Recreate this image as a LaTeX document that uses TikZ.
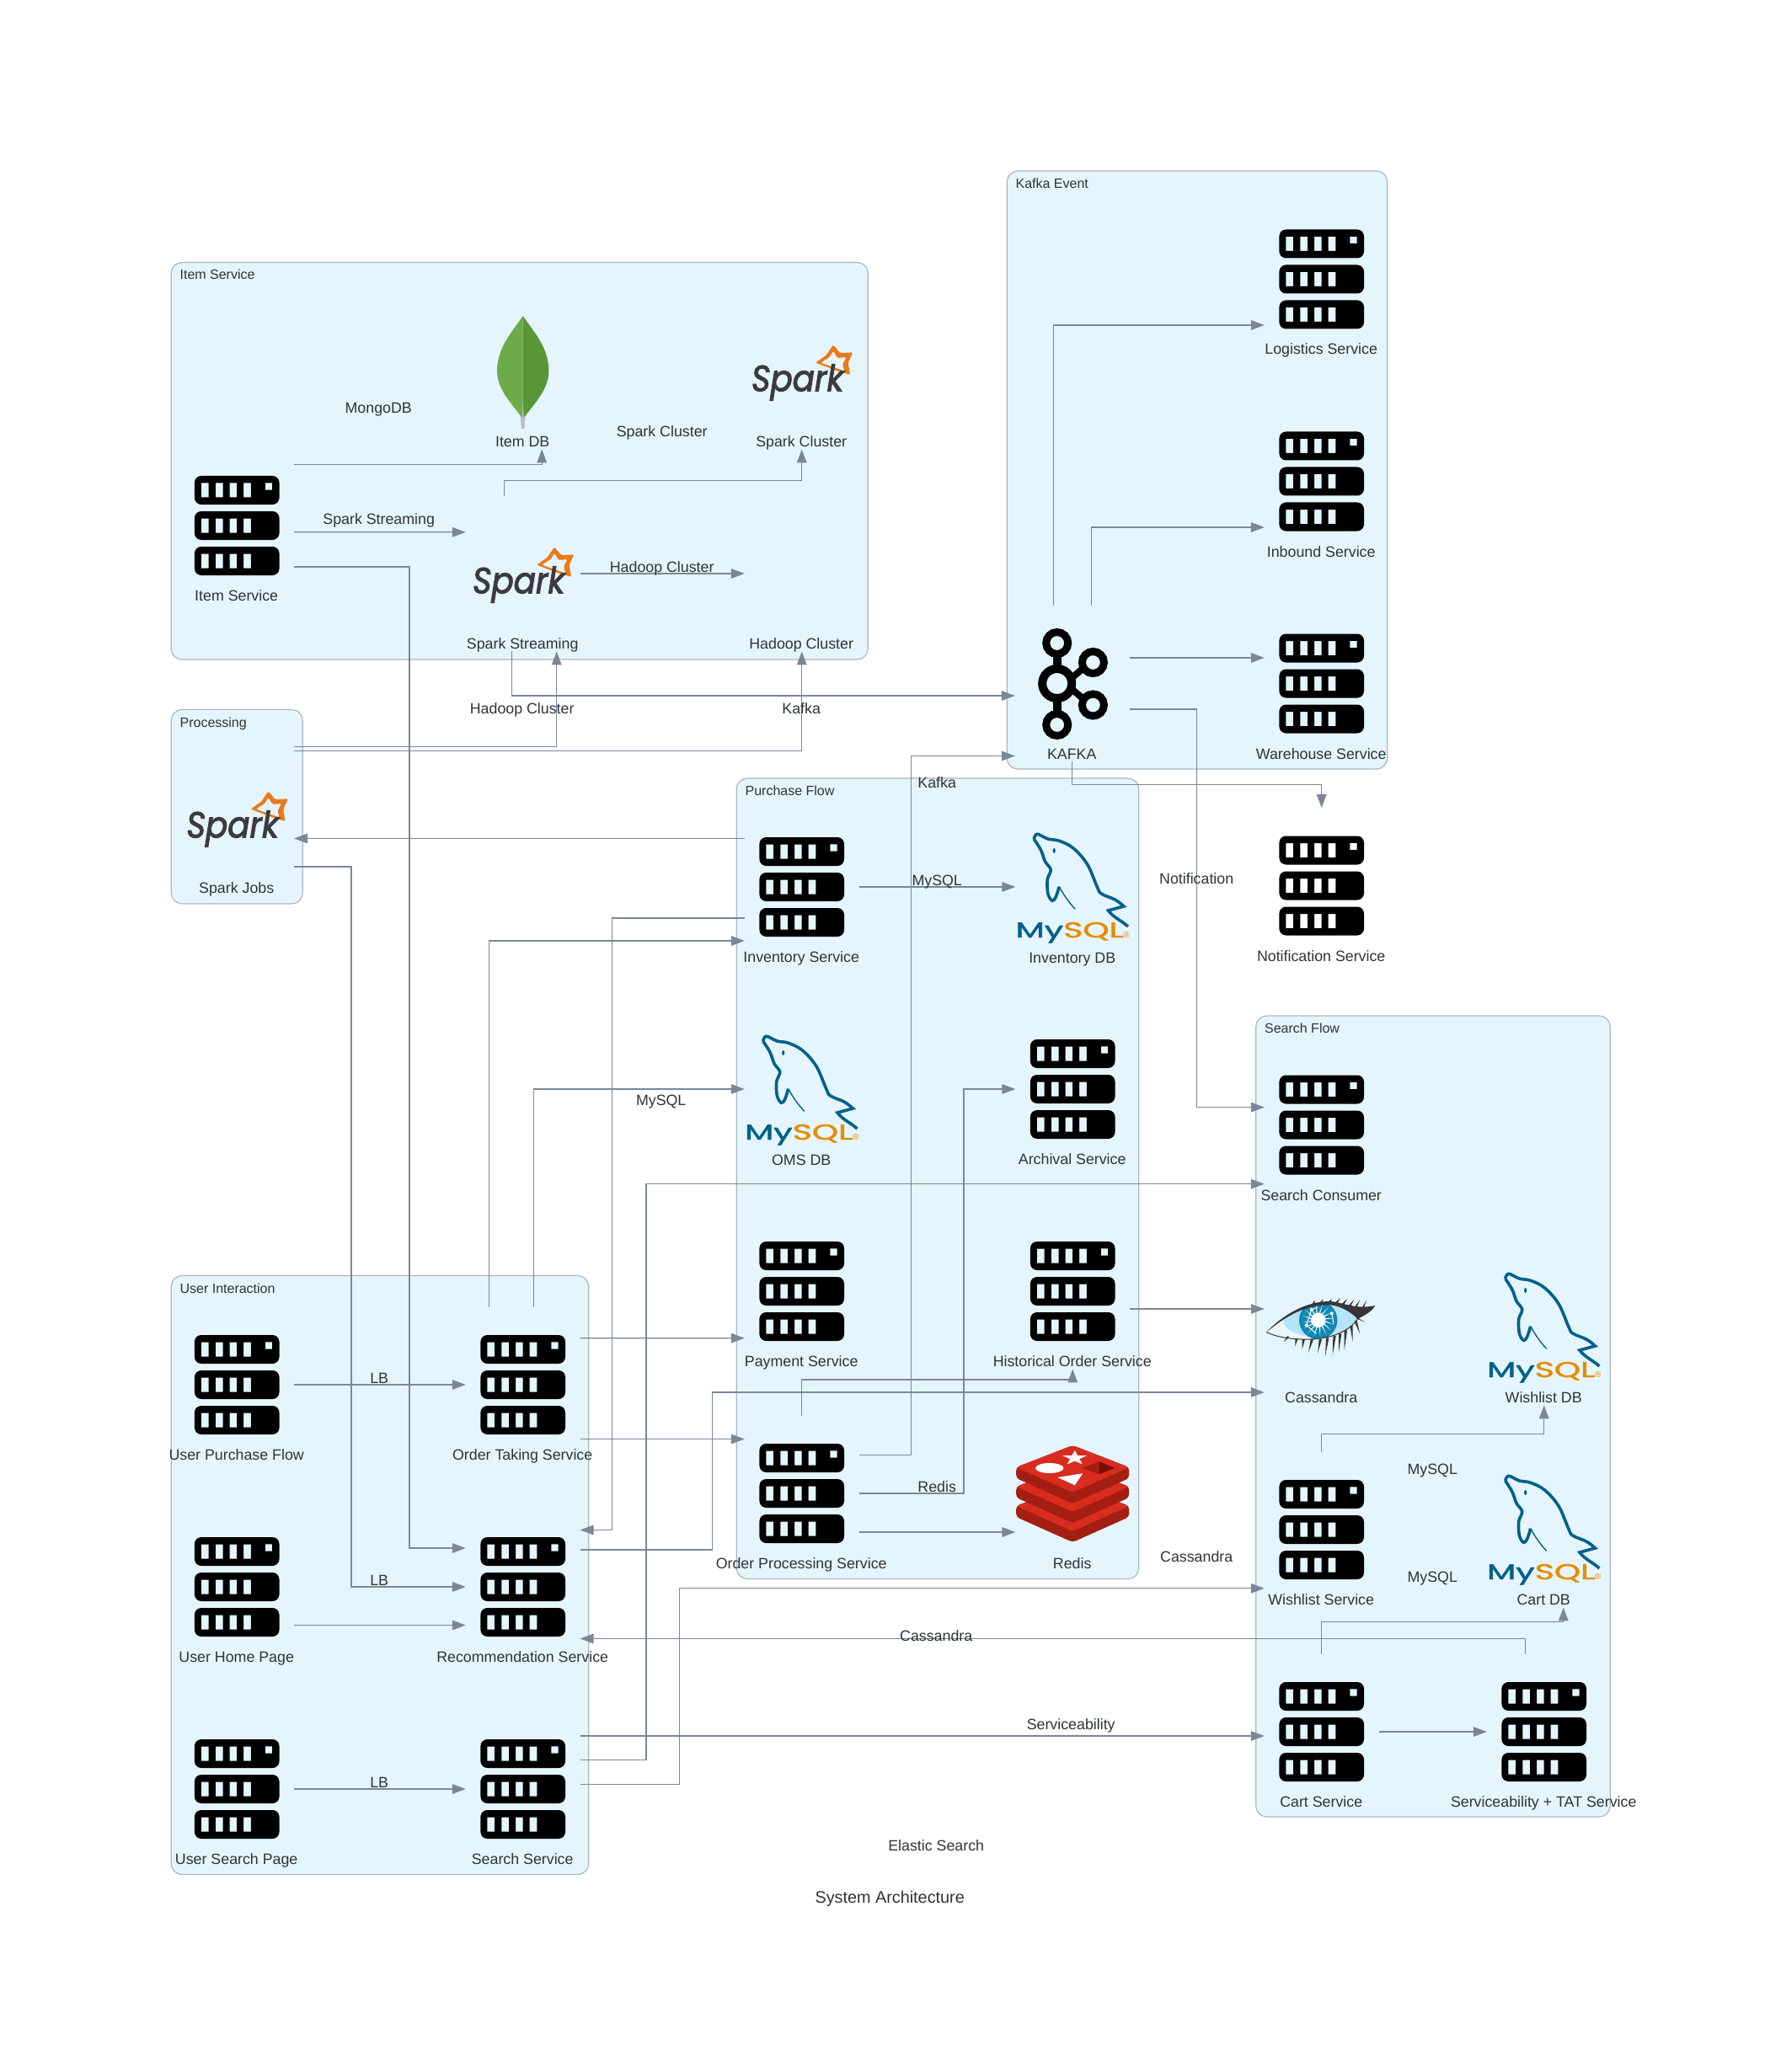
\documentclass[tikz,border=0pt]{standalone}
\usepackage{fontspec}
\setmainfont{Liberation Sans}
\newfontfamily\logofont{Poppins}[FakeBold=1.6]
\newfontfamily\sparkfont{Poppins}[FakeBold=2.6]
\usetikzlibrary{arrows.meta,positioning,calc}

\definecolor{edgecol}{HTML}{7B8894}
\definecolor{clusterfill}{HTML}{E5F5FD}
\definecolor{clusterline}{HTML}{AEB6BE}
\definecolor{textcol}{HTML}{2D3436}
\definecolor{sparkorange}{HTML}{EA7A1A}
\definecolor{sparkgrey}{HTML}{3C3A3E}
\definecolor{mysqlblue}{HTML}{00618A}
\definecolor{mysqlorange}{HTML}{E48E00}
\definecolor{redislight}{HTML}{D82C20}
\definecolor{redisdark}{HTML}{A41E11}
\definecolor{redisdeep}{HTML}{7A0C00}
\definecolor{leaflight}{HTML}{6CAC48}
\definecolor{leafdark}{HTML}{589636}
\definecolor{lashcol}{HTML}{373535}
\definecolor{eyepale}{HTML}{B5E3F8}
\definecolor{eyewhite}{HTML}{EAF7FE}
\definecolor{irisblue}{HTML}{1287B1}

% Icons, drawn around the middle of their node
\tikzset{
  server/.pic={
    \foreach \r/\led in {-42/1,0/0,42/0} {
      \fill[black, even odd rule, rounded corners=4pt] (-50.3,\r-17) rectangle (50.3,\r+17) [sharp corners]
        (33.7,\r-8.7) rectangle (33.7+8.3*\led,\r-0.3)
        \foreach \p in {-42.3,-25.3,-8.7,8} {(\p,\r-8.5) rectangle (\p+8.7,\r+8.5)};
    }
  },
  spark/.pic={
    \fill[sparkorange, even odd rule, rounded corners=.8pt] (37.3,-31.7) -- (45.7,-21.7) -- (60.7,-22.7) -- (55,-10.3) -- (57.3,4)
      -- (44,0) -- (16.3,-10.3) -- (29,-19.3) -- cycle
      (37.3,-24.3) -- (42.3,-16) -- (53,-17) -- (48.3,-8.3) -- (50.7,-.3) -- (41.7,-3.7) -- (22.3,-10.3) -- (33,-17) -- cycle;
    \node[inner sep=0, anchor=base west, text=sparkgrey, font=\fontsize{21.5}{22}\sparkfont\itshape] (sparkword) at (-60,23.3)
      {\scalebox{.9}[1]{Spark}};
  },
  mysql/.pic={
    \draw[mysqlblue, line width=1.8pt] plot[smooth, tension=.6] coordinates {(-46,-58) (-42,-63.7) (-29.3,-58) (-16,-55.7)
      (0.7,-47) (17.3,-28) (29,-1.3) (34,7) (50.7,14.3) (60.7,22)} -- (42.3,27) .. controls (48,35) and (58,39) .. (65.7,46);
    \draw[mysqlblue, line width=1.8pt] plot[smooth, tension=.6] coordinates {(-46,-58) (-37.7,-44.7) (-32.7,-31.3) (-26,-21.3)
      (-30,-9.7) (-29.3,7) (-24.3,15.3) (-20,11) (-16,-1.3)};
    \draw[mysqlblue, line width=.7pt] (-16,-1.3) .. controls (-11,8) and (-4,18) .. (3,25.3);
    \fill[mysqlblue] (-22,-44) ellipse (1.6 and 3);
    \node[inner sep=0, anchor=base west, font=\fontsize{12.8}{13}\logofont] (mysqlword) at (-68,59)
      {\scalebox{1.55}[1]{\textcolor{mysqlblue}{My}\textcolor{mysqlorange}{SQL}}};
    \node[inner sep=0, text=mysqlorange, font=\fontsize{5}{5}\selectfont] (mysqlmark) at (64,56.5) {®};
  },
  redis/.pic={
    \foreach \d in {46,23,0} {
      \fill[redisdark, rounded corners=2pt] (-67,-31+\d) -- (0,-57+\d) -- (67,-31+\d) -- (67,-18+\d) -- (0,12+\d) -- (-67,-18+\d) -- cycle;
      \fill[redislight, rounded corners=2pt] (-67,-31+\d) -- (0,-57+\d) -- (67,-31+\d) -- (0,-1+\d) -- cycle;
    }
    \fill[white] (-27.5,-30) ellipse (16.7 and 6);
    \fill[white] (-18,-19) -- (12,-23.7) -- (2.5,-9.7) -- cycle;
    \fill[white] (2.5,-51) -- (6,-44.9) -- (16.8,-44.8) -- (8.2,-40.9) -- (11.3,-34.7) -- (2.5,-38.4)
      -- (-6.3,-34.7) -- (-3.2,-40.9) -- (-11.8,-44.8) -- (-1,-44.9) -- cycle;
    \fill[redisdark] (11.5,-30) -- (31.5,-38) -- (31.5,-22.7) -- cycle;
    \fill[redisdeep] (31.5,-38) -- (50,-30) -- (31.5,-22.7) -- cycle;
  },
  mongo/.pic={
    \fill[lightgray] (0,30) -- (3,50) -- (2,68) -- (-2,68) -- (-3,50) -- cycle;
    \fill[leaflight] (0,-66) .. controls (-10,-50) and (-31,-30) .. (-30.7,0) .. controls (-30.5,22) and (-12,40) .. (-1,55) -- (0,30) -- cycle;
    \fill[leafdark] (0,-66) .. controls (10,-50) and (31,-30) .. (30.7,0) .. controls (30.5,22) and (12,40) .. (1,55) -- (0,30) -- cycle;
  },
  kafka/.pic={
    \draw[black, line width=5pt] (-18,0) circle (17.5);
    \foreach \ry in {-48,49} {
      \draw[black, line width=4.5pt] (-18,\ry) circle (13);
    }
    \foreach \ry in {-25,25.5} {
      \draw[black, line width=4.5pt] (24.7,\ry) circle (13);
    }
    \draw[black, line width=5pt] (-18,-35) -- (-18,-20) (-18,36) -- (-18,20);
    \draw[black, line width=4pt] (1,-8) -- (13,-18) (1,8) -- (13,18);
  },
  cassandra/.pic={
    \begin{scope}[shift={(-73,-46)}, x=.16667pt, y=-.16667pt]
      \begin{scope}
        \clip (22,155) .. controls (80,100) and (160,50) .. (250,55) .. controls (300,60) and (335,85) .. (348,108)
          .. controls (310,160) and (240,178) .. (180,180) .. controls (110,182) and (60,172) .. (22,155) -- cycle;
        \fill[eyewhite] (0,0) rectangle (450,270);
        \fill[eyepale] (215,115) ellipse (132 and 58);
        \fill[irisblue] (207,112) circle (68);
      \end{scope}
      \foreach \a in {0,22.5,...,337.5} {
        \fill[white] (207,112) -- ++(\a-16:25) -- ++(\a:34) -- cycle;
      }
      \fill[white] (207,112) circle (26);
      \draw[white, line width=.5pt] (183,75) -- (165,130) -- (200,160) (183,75) -- (205,66) (255,88) -- (262,125);
      \fill[white] (183,75) circle (6) (165,130) circle (6) (255,88) circle (6);
      \fill[lashcol] (22,155) .. controls (80,95) and (160,45) .. (250,45) .. controls (300,50) and (340,75) .. (410,60)
        .. controls (395,85) and (370,95) .. (348,108) .. controls (325,85) and (290,62) .. (250,58)
        .. controls (160,55) and (90,100) .. (22,155) -- cycle;
      \draw[lashcol, line width=.5pt] (22,155) .. controls (60,172) and (110,182) .. (180,180) .. controls (240,178) and (310,160) .. (348,108);
      \foreach \ax/\ay/\bx/\by in {190/55/195/40, 215/52/225/36, 245/50/255/36, 272/50/285/33, 295/55/310/36, 318/62/335/38, 338/70/355/40, 360/80/380/40,
          100/170/85/190, 130/178/125/205, 155/180/150/215, 185/180/172/228, 215/180/205/230, 240/175/232/240, 265/168/258/238,
          285/160/280/225, 305/148/300/220, 325/132/330/190, 340/115/355/160, 345/105/375/120} {
        \fill[lashcol] (\ax-5,\ay) -- (\ax+5,\ay) -- (\bx,\by) -- cycle;
      }
    \end{scope}
  }
}

\begin{document}
\begin{tikzpicture}[
    x=.5pt, y=-.5pt,
    cluster/.style={draw=clusterline, fill=clusterfill, line width=.6pt, rounded corners=6.5pt},
    ctitle/.style={anchor=base west, inner sep=0, text=textcol, font=\fontsize{8}{9}\selectfont},
    nd/.style={rectangle, minimum width=67.5pt, minimum height=92pt, inner sep=0},
    lbl/.style={anchor=base, inner sep=0, text=textcol, font=\fontsize{8.9}{10}\selectfont},
    arrow/.style={draw=edgecol, line width=.65pt, -{Triangle[length=8pt, width=5.8pt]}}
]
\useasboundingbox (-.7,0) rectangle (2112.3,2460);

% Clusters
\foreach \name/\xa/\ya/\xb/\yb/\txt in {
    citem/202.5/311.5/1029.5/783/Item Service,
    cproc/202.5/842.5/358.5/1073/Processing,
    ckafka/1194.5/203/1646/913/Kafka Event,
    cpurch/873.5/924/1351/1874.5/Purchase Flow,
    csearch/1490/1206/1910.5/2157/Search Flow,
    cuser/202.5/1514.5/698/2225.5/User Interaction} {
  \draw[cluster] (\xa,\ya) rectangle (\xb,\yb);
  \node[ctitle] (\name) at (\xa+10,\ya+20.5) {\txt};
}

% Nodes with their icon and caption
\foreach \name/\x/\y/\icon/\txt in {
    item/280.5/624/server/Item Service,
    itemdb/620/441/mongo/Item DB,
    stream/620/681/spark/Spark Streaming,
    sparkcl/951/441/spark/Spark Cluster,
    jobs/280.5/971/spark/Spark Jobs,
    kafka/1272/811.5/kafka/KAFKA,
    logist/1568/331.5/server/Logistics Service,
    inbound/1568/571.5/server/Inbound Service,
    wareh/1568/811.5/server/Warehouse Service,
    notif/1568/1051.5/server/Notification Service,
    invent/951/1053/server/Inventory Service,
    invdb/1272.5/1054/mysql/Inventory DB,
    oms/951/1294/mysql/OMS DB,
    arch/1272.5/1293/server/Archival Service,
    pay/951/1533/server/Payment Service,
    hist/1272.5/1533/server/Historical Order Service,
    proc/951/1773/server/Order Processing Service,
    redis/1272.5/1773/redis/Redis,
    consum/1568/1335.5/server/Search Consumer,
    cass/1568/1576/cassandra/Cassandra,
    wishdb/1832/1576/mysql/Wishlist DB,
    wish/1568/1816/server/Wishlist Service,
    cartdb/1832/1816/mysql/Cart DB,
    cart/1568/2056/server/Cart Service,
    serv/1832/2056/server/Serviceability + TAT Service,
    upurch/280.5/1644/server/User Purchase Flow,
    order/620/1644/server/Order Taking Service,
    uhome/280.5/1884/server/User Home Page,
    recom/620/1884/server/Recommendation Service,
    usearch/280.5/2124/server/User Search Page,
    search/620/2124/server/Search Service} {
  \node[nd] (\name) at (\x,\y) {};
  \pic at (\name) {\icon};
  \node[lbl] (\name-cap) at (\x-.5,\y+89.5) {\txt};
}
\node[nd] (hadoop) at (951,681) {};
\node[lbl] (hadoop-cap) at (950.5,770.5) {Hadoop Cluster};

% User Interaction
\draw[arrow] (upurch) -- (order);
\draw[arrow] ($(uhome.east)+(0,45.5)$) -- ($(recom.west)+(0,45.5)$);
\draw[arrow] (usearch) -- (search);
\draw[arrow] ($(order.east)+(0,-55.3)$) -- ($(pay.west)+(0,55.7)$);
\draw[arrow] ($(order.east)+(0,64.5)$) -- ($(proc.west)+(0,-64.5)$);
\draw[arrow] ($(order.north)+(-40,0)$) |- ($(invent.west)+(0,64)$);
\draw[arrow] ($(order.north)+(13,0)$) |- ($(oms.west)+(0,-1)$);
\draw[arrow] ($(recom.east)+(0,-44)$) -- ++(157,0) |- ($(cass.west)+(0,77)$);
\draw[arrow] ($(search.east)+(0,-63)$) -- ($(cart.west)+(0,5)$);
\draw[arrow] ($(search.east)+(0,-34.6)$) -- ++(78.5,0) |- ($(consum.west)+(0,70.1)$);
\draw[arrow] ($(search.east)+(0,-5.5)$) -- ++(118,0) |- ($(wish.west)+(0,69.8)$);

% Item Service and Processing
\draw[arrow] ($(item.east)+(0,-72.2)$) -| ($(itemdb.south)+(22.5,0)$);
\draw[arrow] ($(item.east)+(0,7.8)$) -- ($(stream.west)+(0,-49.2)$);
\draw[arrow] ($(item.east)+(0,49)$) -- ++(137,0) |- ($(recom.west)+(0,-46)$);
\draw[arrow] (stream) -- (hadoop);
\draw[arrow] ($(stream.north)+(-22.5,0)$) -- ++(0,-18) -| (sparkcl.south);
\draw[arrow] ($(stream.south)+(-13.5,0)$) |- ($(kafka.west)+(0,14.5)$);
\draw[arrow] ($(jobs.east)+(0,-84.7)$) -| ($(stream.south)+(40,0)$);
\draw[arrow] ($(jobs.east)+(0,-79.4)$) -| (hadoop.south);
\draw[arrow] ($(jobs.east)+(0,58)$) -- ++(68,0) |- (recom.west);

% Purchase Flow
\draw[arrow] ($(invent.west)+(0,37)$) -- ++(-157,0) |- ($(recom.east)+(0,-67.5)$);
\draw[arrow] ($(invent.west)+(0,-57.5)$) -- ($(jobs.east)+(0,24.5)$);
\draw[arrow] (invent) -- ($(invdb.west)+(0,-1)$);
\draw[arrow] ($(proc.east)+(0,-45.3)$) -- ++(62,0) |- ($(kafka.west)+(0,86)$);
\draw[arrow] (proc.east) -- ++(124.5,0) |- (arch.west);
\draw[arrow] ($(proc.east)+(0,46)$) -- ($(redis.west)+(0,46)$);
\draw[arrow] (proc.north) -- ++(0,-42.5) -| (hist.south);
\draw[arrow] ($(hist.east)+(0,21)$) -- ($(cass.west)+(0,-22)$);

% Kafka Event
\draw[arrow] ($(kafka.north)+(-22,0)$) |- ($(logist.west)+(0,54.5)$);
\draw[arrow] ($(kafka.north)+(23,0)$) |- ($(inbound.west)+(0,54.5)$);
\draw[arrow] ($(kafka.east)+(0,-30.5)$) -- ($(wareh.west)+(0,-30.5)$);
\draw[arrow] ($(kafka.east)+(0,30.5)$) -- ++(80,0) |- ($(consum.west)+(0,-20.9)$);
\draw[arrow] (kafka.south) -- ++(0,27.5) -| (notif.north);

% Search Flow
\draw[arrow] (wish.north) -- ++(0,-21) -| (wishdb.south);
\draw[arrow] (cart.north) -- ++(0,-38) -| ($(cartdb.south)+(23,0)$);
\draw[arrow] (cart) -- (serv);
\draw[arrow] ($(serv.north)+(-22,0)$) |- ($(recom.east)+(0,61.5)$);

% Edge labels
\foreach \x/\y/\txt [count=\i] in {
    450/1636/LB, 450/1876/LB, 450/2116/LB,
    449/484.5/MongoDB, 785.5/512.5/Spark Cluster, 449.5/616.5/Spark Streaming,
    785.5/673/Hadoop Cluster, 619.5/840.5/Hadoop Cluster, 951/840.5/Kafka,
    1112/929/Kafka, 1112/1045/MySQL, 784.5/1306/MySQL, 1112/1765/Redis,
    1420/1043/Notification, 1420/1848/Cassandra, 1111/1942/Cassandra,
    1271/2047/Serviceability, 1700/1744/MySQL, 1700/1871.5/MySQL, 1111/2191/Elastic Search} {
  \node[lbl] (edgelbl\i) at (\x-.5,\y+6.5) {\txt};
}

% Caption of the whole picture
\node[lbl, font=\fontsize{9.9}{11}\selectfont] (caption) at (1055.5,2259.5) {System Architecture};

\end{tikzpicture}
\end{document}
